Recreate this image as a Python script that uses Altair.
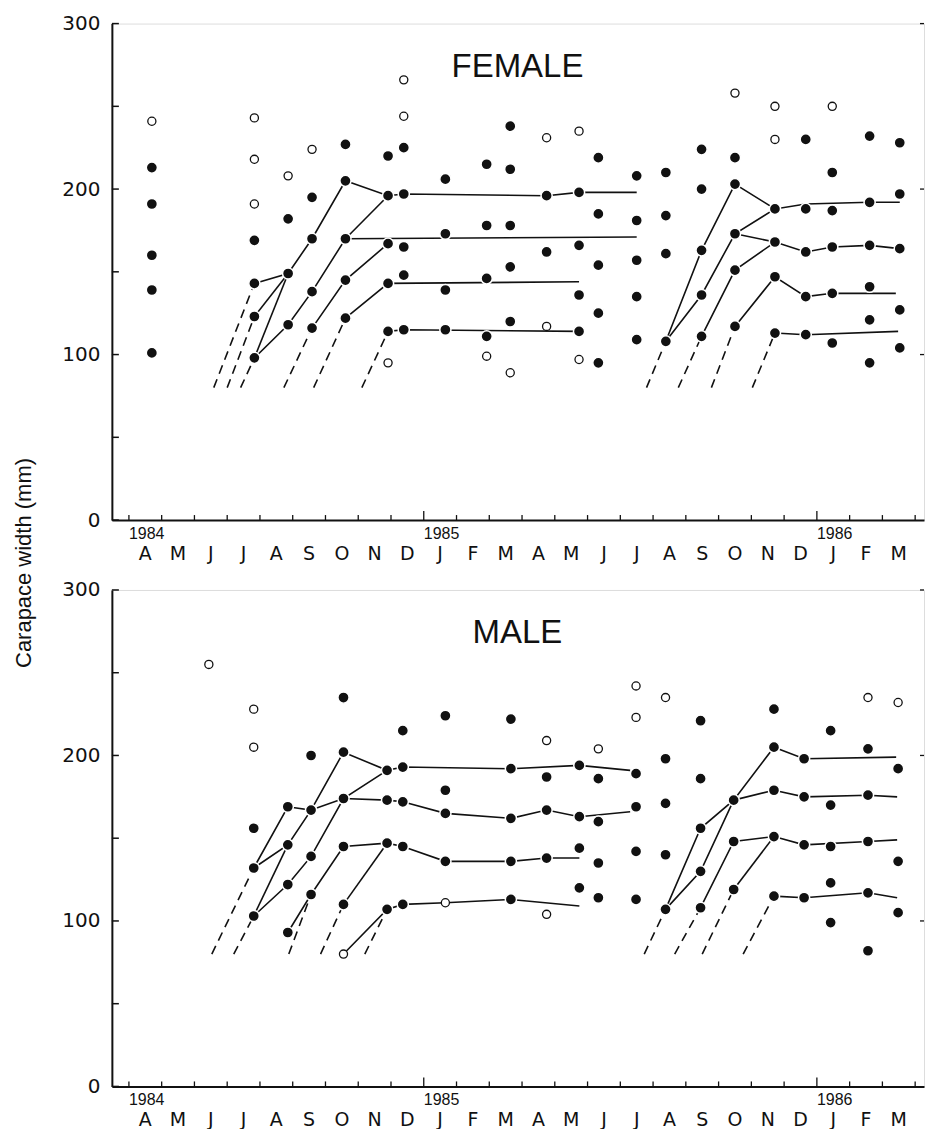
import altair as alt
import pandas as pd

# ---- axis text -------------------------------------------------------------
MONTH_LETTERS = ["A", "M", "J", "J", "A", "S", "O", "N", "D", "J", "F", "M"] * 2
YEAR_LABELS = ["1984", "1985", "1986"]
YEAR_STARTS = [0, 9, 21]          # months after 1 Apr 1984
MONTH_TICKS = list(range(0, 25))  # month boundaries, Apr 1984 .. Apr 1986
Y_MAJOR = [0, 100, 200, 300]
Y_MINOR = [50, 150, 250]
Y_TITLE = "Carapace width (mm)"

# ---- FEMALE ----------------------------------------------------------------
# sampling dates (months after 1 Apr 1984), filled and open size modes (mm)
F_MONTHS = [0.70, 3.83, 4.86, 5.59, 6.61, 7.91, 8.39, 9.66, 10.92, 11.64, 12.75,
            13.74, 14.33, 15.50, 16.39, 17.48, 18.50, 19.72, 20.66, 21.47, 22.61, 23.53]
F_FILLED = [
    [213, 191, 160, 139, 101],
    [169, 143, 123, 98],
    [182, 149, 118],
    [195, 170, 138, 116],
    [227, 205, 170, 145, 122],
    [220, 196, 167, 143, 114],
    [225, 197, 165, 148, 115],
    [206, 173, 139, 115],
    [215, 178, 146, 111],
    [238, 212, 178, 153, 120],
    [196, 162],
    [198, 166, 136, 114],
    [219, 185, 154, 125, 95],
    [208, 181, 157, 135, 109],
    [210, 184, 161, 108],
    [224, 200, 163, 136, 111],
    [219, 203, 173, 151, 117],
    [188, 168, 147, 113],
    [230, 188, 162, 135, 112],
    [210, 187, 165, 137, 107],
    [232, 192, 166, 141, 121, 95],
    [228, 197, 164, 127, 104],
]
F_OPEN = [
    [241], [243, 218, 191], [208], [224], [], [95], [266, 244], [], [99], [89],
    [231, 117], [235, 97], [], [], [], [], [258], [250, 230], [], [250], [], [],
]
# cohort growth tracks (solid) and their back-extrapolations (dashed)
F_TRACKS = [
    [(3.83, 143), (4.86, 149), (5.59, 170), (6.61, 205), (7.91, 196), (8.39, 197),
     (12.75, 196), (13.74, 198), (15.50, 198)],
    [(3.83, 123), (4.86, 149)],
    [(3.83, 98), (4.86, 149)],
    [(3.83, 98), (4.86, 118), (5.59, 138), (6.61, 170), (15.50, 171)],
    [(6.61, 170), (7.91, 196)],
    [(5.59, 116), (6.61, 145), (7.91, 167)],
    [(6.61, 122), (7.91, 143), (13.74, 144)],
    [(7.91, 114), (8.39, 115), (13.74, 114)],
    [(16.39, 108), (17.48, 163), (18.50, 203), (19.72, 188), (20.66, 191),
     (22.61, 192), (23.53, 192)],
    [(16.39, 108), (17.48, 136), (18.50, 173), (19.72, 188)],
    [(18.50, 173), (19.72, 168), (20.66, 162), (21.47, 165), (22.61, 166), (23.53, 164)],
    [(17.48, 111), (18.50, 151), (19.72, 168)],
    [(18.50, 117), (19.72, 147), (20.66, 135), (21.47, 137), (23.41, 137)],
    [(19.72, 113), (20.66, 112), (23.48, 114)],
]
F_DASHED = [
    [(2.59, 80), (3.83, 143)],
    [(3.00, 80), (3.83, 123)],
    [(3.41, 80), (3.83, 98)],
    [(4.73, 80), (5.59, 116)],
    [(5.64, 80), (6.61, 122)],
    [(7.11, 80), (7.91, 114)],
    [(15.80, 80), (16.39, 108)],
    [(16.77, 80), (17.48, 111)],
    [(17.78, 80), (18.50, 117)],
    [(19.03, 80), (19.72, 113)],
]

# ---- MALE ------------------------------------------------------------------
M_MONTHS = [2.44, 3.81, 4.85, 5.56, 6.55, 7.88, 8.36, 9.66, 11.66, 12.75, 13.75,
            14.33, 15.48, 16.38, 17.45, 18.46, 19.69, 20.61, 21.42, 22.56, 23.48]
M_FILLED = [
    [],
    [156, 132, 103],
    [169, 146, 122, 93],
    [200, 167, 139, 116],
    [235, 202, 174, 145, 110],
    [191, 173, 147, 107],
    [215, 193, 172, 145, 110],
    [224, 179, 165, 136],
    [222, 192, 162, 136, 113],
    [187, 167, 138],
    [194, 163, 144, 120],
    [186, 160, 135, 114],
    [189, 169, 142, 113],
    [198, 171, 140, 107],
    [221, 186, 156, 130, 108],
    [173, 148, 119],
    [228, 205, 179, 151, 115],
    [198, 175, 146, 114],
    [215, 170, 145, 123, 99],
    [204, 176, 148, 117, 82],
    [192, 136, 105],
]
M_OPEN = [
    [255], [228, 205], [], [], [80], [], [], [111], [], [209, 104], [],
    [204], [242, 223], [235], [], [], [], [], [], [235], [232],
]
M_TRACKS = [
    [(3.81, 132), (4.85, 169), (5.56, 167), (6.55, 202), (7.88, 191), (8.36, 193),
     (11.66, 192), (13.75, 194), (15.30, 191)],
    [(3.81, 132), (4.85, 146), (5.56, 167)],
    [(3.81, 103), (4.85, 146)],
    [(3.81, 103), (4.85, 122), (5.56, 139), (6.55, 174), (7.88, 191)],
    [(5.56, 167), (6.55, 174), (7.88, 173), (8.36, 172), (9.66, 165), (11.66, 162),
     (12.75, 167), (13.75, 163), (15.30, 166)],
    [(4.85, 93), (5.56, 116), (6.55, 145), (7.88, 147), (8.36, 145), (9.66, 136),
     (11.66, 136), (12.75, 138), (13.75, 138)],
    [(6.55, 110), (7.88, 147)],
    [(6.55, 80), (7.88, 107), (8.36, 110), (9.66, 111), (11.66, 113), (13.75, 109)],
    [(16.38, 107), (17.45, 156), (18.46, 173), (19.69, 205), (20.61, 198), (23.42, 199)],
    [(16.38, 107), (17.45, 130), (18.46, 173)],
    [(18.46, 173), (19.69, 179), (20.61, 175), (22.56, 176), (23.45, 175)],
    [(17.45, 108), (18.46, 148), (19.69, 151), (20.61, 146), (22.56, 148), (23.45, 149)],
    [(18.46, 119), (19.69, 151)],
    [(19.69, 115), (20.61, 114), (22.56, 117), (23.45, 114)],
]
M_DASHED = [
    [(2.53, 80), (3.81, 132)],
    [(3.20, 80), (3.81, 103)],
    [(4.88, 80), (5.56, 116)],
    [(5.85, 80), (6.55, 110)],
    [(7.20, 80), (7.88, 107)],
    [(15.73, 80), (16.38, 107)],
    [(16.66, 80), (17.45, 108)],
    [(17.50, 80), (18.46, 119)],
    [(18.75, 80), (19.69, 115)],
]

# ---- layout ----------------------------------------------------------------
W, H = 813, 497
X_DOMAIN = [-0.52, 24.27]
INK = "#111111"


def points_frame(months, filled, opened):
    rows = []
    for m, fs, os_ in zip(months, filled, opened):
        rows += [{"month": m, "width": w, "kind": "filled"} for w in fs]
        rows += [{"month": m, "width": w, "kind": "open"} for w in os_]
    return pd.DataFrame(rows)


def tracks_frame(tracks):
    rows = []
    for i, tr in enumerate(tracks):
        for j, (m, w) in enumerate(tr):
            rows.append({"track": i, "step": j, "month": m, "width": w})
    return pd.DataFrame(rows)


def panel(name, months, filled, opened, tracks, dashed, y_title=None):
    xs = alt.Scale(domain=X_DOMAIN, nice=False, zero=False)
    ys = alt.Scale(domain=[0, 300], nice=False)
    x_axis = alt.Axis(title=None, labels=False, ticks=False, grid=False,
                      domainColor=INK, domainWidth=2)
    y_axis = alt.Axis(title=None, values=Y_MAJOR, ticks=False, grid=False,
                      domainColor=INK, domainWidth=2, labelFont="DejaVu Sans",
                      labelFontSize=20, labelColor=INK, labelPadding=12)

    def X(f):
        return alt.X(f, type="quantitative", scale=xs, axis=x_axis)

    def Y(f):
        return alt.Y(f, type="quantitative", scale=ys, axis=y_axis)

    pts = points_frame(months, filled, opened)

    solid = alt.Chart(tracks_frame(tracks)).mark_line(
        color=INK, strokeWidth=1.6
    ).encode(X("month"), Y("width"), detail="track:N", order="step:Q")

    dash = alt.Chart(tracks_frame(dashed)).mark_line(
        color=INK, strokeWidth=1.6, strokeDash=[9, 6]
    ).encode(X("month"), Y("width"), detail="track:N", order="step:Q")

    dots = alt.Chart(pts[pts.kind == "filled"]).mark_point(
        shape="circle", filled=True, fill=INK, stroke="white", strokeWidth=1.5,
        size=125, opacity=1
    ).encode(X("month"), Y("width"))

    rings = alt.Chart(pts[pts.kind == "open"]).mark_point(
        shape="circle", filled=True, fill="white", stroke=INK, strokeWidth=1.3,
        size=66, opacity=1
    ).encode(X("month"), Y("width"))

    ticks = pd.DataFrame({"month": MONTH_TICKS})
    year_tick = ticks["month"].isin(YEAR_STARTS[1:])
    xt_short = alt.Chart(ticks[~year_tick]).mark_rule(color=INK, strokeWidth=1.3).encode(
        X("month"), y=alt.value(H), y2=alt.value(H - 5))
    xt_long = alt.Chart(ticks[year_tick]).mark_rule(color=INK, strokeWidth=1.3).encode(
        X("month"), y=alt.value(H), y2=alt.value(H - 9))

    yt = pd.DataFrame({"value": Y_MAJOR + Y_MINOR})
    yt_left = alt.Chart(yt).mark_rule(color=INK, strokeWidth=1.5).encode(
        Y("value"), x=alt.value(0), x2=alt.value(7))
    yt_right = alt.Chart(pd.DataFrame({"value": Y_MAJOR[1:]})).mark_rule(
        color=INK, strokeWidth=1.3).encode(Y("value"), x=alt.value(W - 4), x2=alt.value(W))

    months_df = pd.DataFrame({"pos": [i + 0.5 for i in range(len(MONTH_LETTERS))],
                              "letter": MONTH_LETTERS})
    month_text = alt.Chart(months_df).mark_text(
        font="DejaVu Sans", fontSize=19, align="center", baseline="alphabetic", color=INK
    ).encode(X("pos"), y=alt.value(H + 40), text="letter:N")

    years_df = pd.DataFrame({"start": YEAR_STARTS, "label": YEAR_LABELS})
    year_text = alt.Chart(years_df).mark_text(
        font="Liberation Sans", fontSize=16, align="left", baseline="alphabetic", color=INK
    ).encode(X("start"), y=alt.value(H + 19), text="label:N")

    title = alt.Chart(pd.DataFrame({"label": [name]})).mark_text(
        font="Liberation Sans", fontSize=33, align="center", baseline="middle", color=INK
    ).encode(x=alt.value(406), y=alt.value(43), text="label:N")

    layers = [solid, dash, dots, rings, xt_short, xt_long, yt_left, yt_right,
              month_text, year_text, title]
    if y_title:
        ytl = alt.Chart(pd.DataFrame({"label": [y_title]})).mark_text(
            font="Liberation Sans Narrow, Liberation Sans, sans-serif", fontSize=22,
            angle=270, align="center", baseline="top", color=INK
        ).encode(x=alt.value(-98), y=alt.value(540), text="label:N")
        layers.append(ytl)
    return alt.layer(*layers).properties(width=W, height=H)


female = panel("FEMALE", F_MONTHS, F_FILLED, F_OPEN, F_TRACKS, F_DASHED, Y_TITLE)
male = panel("MALE", M_MONTHS, M_FILLED, M_OPEN, M_TRACKS, M_DASHED)

chart = alt.vconcat(female, male, spacing=70, bounds="flush").properties(
    padding={"left": 12, "top": 12, "right": 0, "bottom": 0}
).configure_view(stroke=None).configure(background="white")

chart.save("out.html", embed_options={"renderer": "svg", "actions": False})
